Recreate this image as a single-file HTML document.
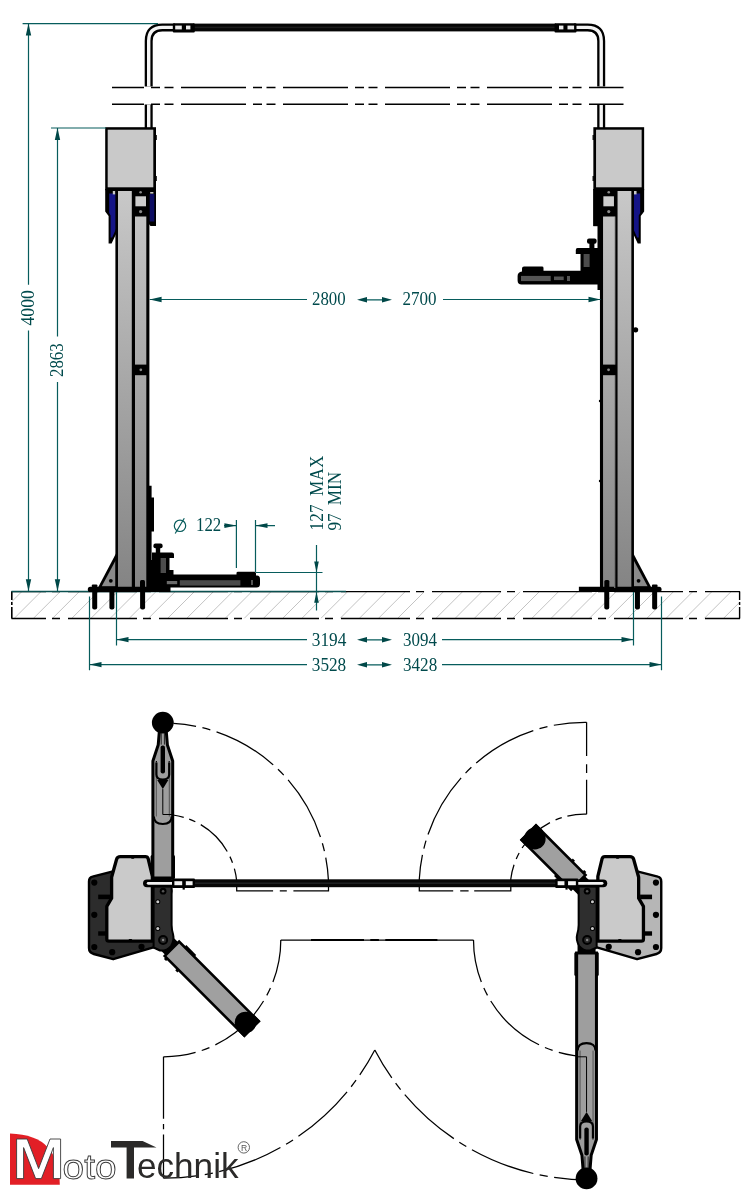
<!DOCTYPE html>
<html>
<head>
<meta charset="utf-8">
<title>Lift</title>
<style>
html,body{margin:0;padding:0;background:#fff;}
body{width:751px;height:1195px;overflow:hidden;font-family:"Liberation Serif",serif;}
svg{display:block;position:absolute;left:0;top:0;will-change:transform;}
.dim{stroke:#075c5c;stroke-width:1.2;fill:none;}
.arr{fill:#004848;stroke:none;}
.dt{font-family:"Liberation Serif",serif;font-size:17.2px;fill:#004a4c;}
.k{stroke:#000;fill:none;}
.cl{stroke:#000;stroke-width:1.25;fill:none;}
.lg{font-family:"Liberation Sans",sans-serif;}
</style>
</head>
<body>
<svg width="751" height="1195" viewBox="0 0 751 1195">
<defs>
<linearGradient id="colg" gradientUnits="userSpaceOnUse" x1="0" y1="191" x2="0" y2="588">
<stop offset="0" stop-color="#c8c8c8"/><stop offset="1" stop-color="#848484"/>
</linearGradient>
<clipPath id="floorclip"><rect x="11.5" y="591.5" width="728.5" height="27"/></clipPath>

</defs>
<rect x="0" y="0" width="751" height="1195" fill="#fff"/>
<g id="floor"><path clip-path="url(#floorclip)" d="M-24.3 618.6L2.8 591.5M-5.2 618.6L21.9 591.5M14.0 618.6L41.1 591.5M33.2 618.6L60.3 591.5M52.3 618.6L79.4 591.5M71.5 618.6L98.6 591.5M90.7 618.6L117.8 591.5M109.9 618.6L137.0 591.5M129.0 618.6L156.1 591.5M148.2 618.6L175.3 591.5M167.4 618.6L194.5 591.5M186.5 618.6L213.6 591.5M205.7 618.6L232.8 591.5M224.9 618.6L252.0 591.5M244.0 618.6L271.1 591.5M263.2 618.6L290.3 591.5M282.4 618.6L309.5 591.5M301.6 618.6L328.7 591.5M320.7 618.6L347.8 591.5M339.9 618.6L367.0 591.5M359.1 618.6L386.2 591.5M378.2 618.6L405.3 591.5M397.4 618.6L424.5 591.5M416.6 618.6L443.7 591.5M435.7 618.6L462.8 591.5M454.9 618.6L482.0 591.5M474.1 618.6L501.2 591.5M493.3 618.6L520.4 591.5M512.4 618.6L539.5 591.5M531.6 618.6L558.7 591.5M550.8 618.6L577.9 591.5M569.9 618.6L597.0 591.5M589.1 618.6L616.2 591.5M608.3 618.6L635.4 591.5M627.4 618.6L654.5 591.5M646.6 618.6L673.7 591.5M665.8 618.6L692.9 591.5M684.9 618.6L712.0 591.5M704.1 618.6L731.2 591.5M723.3 618.6L750.4 591.5M742.5 618.6L769.6 591.5" stroke="#b4b4b4" stroke-width="0.8" fill="none"/>
<path d="M11.5 591.5H740" class="k" stroke-width="1.25" stroke-dasharray="69 6 8 8" stroke-dashoffset="34.5"/>
<path d="M11.5 618.5H740" class="k" stroke-width="1.3" stroke-dasharray="69 6 8 8" stroke-dashoffset="34.5"/>
<path d="M11.8 591.5V618.5" class="k" stroke-width="1.6" stroke-dasharray="8.5 2 3 2 20"/>
<path d="M739.6 591.5V618.5" class="k" stroke-width="1.4" stroke-dasharray="8.5 2 3 2 20"/>
<path d="M11.5 591.6H346" stroke="#0a5050" stroke-width="1.5" fill="none"/>
</g>
<!--FLOOR-->

<g id="elev">
<!-- pipe -->
<g fill="none" stroke-linecap="butt">
<path d="M148.7 128V104.4M148.7 86.6V41Q148.7 27.4 162.3 27.4H175M601.2 128V104.4M601.2 86.6V41Q601.2 27.4 587.6 27.4H574" stroke="#000" stroke-width="8"/>
<path d="M148.7 128V104.4M148.7 86.6V41Q148.7 27.4 162.3 27.4H175M601.2 128V104.4M601.2 86.6V41Q601.2 27.4 587.6 27.4H574" stroke="#f4f4f4" stroke-width="3.4"/>
</g>
<rect x="193" y="23.6" width="363" height="7.8" fill="#060606"/>
<rect x="193" y="26.6" width="363" height="1.6" fill="#1c1c1c"/>
<rect x="172.8" y="23.2" width="22" height="9.2" rx="1" fill="#000"/>
<rect x="175.2" y="25.6" width="6.6" height="3.8" fill="#ededed"/><rect x="186" y="25.6" width="4.4" height="3.8" fill="#ededed"/>
<rect x="554.5" y="23.2" width="22" height="9.2" rx="1" fill="#000"/>
<rect x="567.5" y="25.6" width="6.6" height="3.8" fill="#ededed"/><rect x="559" y="25.6" width="4.4" height="3.8" fill="#ededed"/>
<!-- break lines -->
<path d="M112 87.45H623.5" class="k" stroke-width="1.35" stroke-dasharray="65 7 9 4.5 9 7.5" stroke-dashoffset="33"/>
<path d="M112 104.2H623.5" class="k" stroke-width="1.35" stroke-dasharray="65 7 9 4.5 9 7.5" stroke-dashoffset="33"/>
<g>
<!-- gusset -->
<path d="M97.5 588.5L116.5 552.5V588.5Z" fill="#000"/>
<path d="M101.8 586.3L115.6 560.5V586.3Z" fill="#8a8a8a"/>
<circle cx="110.8" cy="580.8" r="1.9" fill="#000"/>
<!-- motor box -->
<rect x="105.2" y="127.2" width="50.8" height="63" fill="#000"/>
<rect x="107.7" y="129.7" width="45.6" height="57.6" fill="#c9c9c9"/>
<rect x="155.5" y="135" width="1.3" height="5" fill="#000"/><rect x="155.5" y="176" width="1.3" height="5" fill="#000"/>
<!-- side covers (blue) -->
<path d="M105.2 189V211.5L108.6 216V243.5H111.6L116.5 233V189Z" fill="#000"/>
<path d="M109.2 193.5H116V229L112.2 237.5H110.6V215.5L109.2 213Z" fill="#141486"/>
<rect x="112.8" y="191" width="2.6" height="3.4" fill="#c8c8c8"/>
<path d="M148 189H156V226H150.5L148 223Z" fill="#000"/>
<path d="M149.5 194H154.3V221.5H149.5Z" fill="#0e0e64"/>
<rect x="150.2" y="192" width="3.2" height="1.6" fill="#c8c8c8"/>
<!-- column -->
<rect x="115.4" y="189" width="34" height="399.5" fill="#000"/>
<rect x="118" y="191" width="13.8" height="397" fill="url(#colg)"/>
<rect x="135" y="191" width="11.3" height="397" fill="url(#colg)"/>
<!-- top bracket -->
<rect x="134" y="189" width="13.5" height="27.5" fill="#000"/>
<rect x="135.4" y="196.3" width="10.6" height="10" fill="#cdcdcd"/>
<circle cx="140.6" cy="192.3" r="1.3" fill="#8a8a8a"/>
<circle cx="140.6" cy="211.6" r="1.6" fill="#8a8a8a"/>
<!-- mid bracket -->
<rect x="133.6" y="364.6" width="15" height="10.6" fill="#000"/>
<circle cx="140.8" cy="369.8" r="1.4" fill="#8a8a8a"/>
<!-- base plate -->
<path d="M90.2 586.8H170.5V592.1H90.2Q87.8 592.1 87.8 589.45Q87.8 586.8 90.2 586.8Z" fill="#000"/>
<!-- anchors -->
<rect x="92.2" y="590" width="5" height="19.4" rx="2" fill="#000"/><rect x="109.4" y="590" width="5" height="19.4" rx="2" fill="#000"/><rect x="140.1" y="590" width="5" height="19.4" rx="2" fill="#000"/>
<rect x="91.8" y="584.6" width="5.6" height="3" rx="1" fill="#000"/>
<rect x="140" y="580" width="5" height="8" rx="1.5" fill="#000"/>
</g>
<g transform="translate(749.35 0) scale(-1 1)">
<!-- gusset -->
<path d="M97.5 588.5L116.5 552.5V588.5Z" fill="#000"/>
<path d="M101.8 586.3L115.6 560.5V586.3Z" fill="#8a8a8a"/>
<circle cx="110.8" cy="580.8" r="1.9" fill="#000"/>
<!-- motor box -->
<rect x="105.2" y="127.2" width="50.8" height="63" fill="#000"/>
<rect x="107.7" y="129.7" width="45.6" height="57.6" fill="#c9c9c9"/>
<rect x="155.5" y="135" width="1.3" height="5" fill="#000"/><rect x="155.5" y="176" width="1.3" height="5" fill="#000"/>
<!-- side covers (blue) -->
<path d="M105.2 189V211.5L108.6 216V243.5H111.6L116.5 233V189Z" fill="#000"/>
<path d="M109.2 193.5H116V229L112.2 237.5H110.6V215.5L109.2 213Z" fill="#141486"/>
<rect x="112.8" y="191" width="2.6" height="3.4" fill="#c8c8c8"/>
<path d="M148 189H156V226H150.5L148 223Z" fill="#000"/>
<path d="M149.5 194H154.3V221.5H149.5Z" fill="#0e0e64"/>
<rect x="150.2" y="192" width="3.2" height="1.6" fill="#c8c8c8"/>
<!-- column -->
<rect x="115.4" y="189" width="34" height="399.5" fill="#000"/>
<rect x="118" y="191" width="13.8" height="397" fill="url(#colg)"/>
<rect x="135" y="191" width="11.3" height="397" fill="url(#colg)"/>
<!-- top bracket -->
<rect x="134" y="189" width="13.5" height="27.5" fill="#000"/>
<rect x="135.4" y="196.3" width="10.6" height="10" fill="#cdcdcd"/>
<circle cx="140.6" cy="192.3" r="1.3" fill="#8a8a8a"/>
<circle cx="140.6" cy="211.6" r="1.6" fill="#8a8a8a"/>
<!-- mid bracket -->
<rect x="133.6" y="364.6" width="15" height="10.6" fill="#000"/>
<circle cx="140.8" cy="369.8" r="1.4" fill="#8a8a8a"/>
<!-- base plate -->
<path d="M90.2 586.8H170.5V592.1H90.2Q87.8 592.1 87.8 589.45Q87.8 586.8 90.2 586.8Z" fill="#000"/>
<!-- anchors -->
<rect x="92.2" y="590" width="5" height="19.4" rx="2" fill="#000"/><rect x="109.4" y="590" width="5" height="19.4" rx="2" fill="#000"/><rect x="140.1" y="590" width="5" height="19.4" rx="2" fill="#000"/>
<rect x="91.8" y="584.6" width="5.6" height="3" rx="1" fill="#000"/>
<rect x="140" y="580" width="5" height="8" rx="1.5" fill="#000"/>
</g>
<!-- left column lift carriage side -->
<path d="M149 485.8H151.6V497.5H154V531.6H151.6V560H149Z" fill="#000"/>
<!-- left arm -->
<g id="larm">
<rect x="153.4" y="543.6" width="9.2" height="4.6" rx="2" fill="#000"/>
<rect x="155.8" y="546" width="4.4" height="8" fill="#000"/>
<path d="M152 552.5H172Q174 552.5 174 554.5V558H169.5V570H173.5V575H149V560H152Z" fill="#000"/>
<rect x="160.6" y="558" width="5.4" height="15" fill="#4c4c4c"/>
<path d="M149 574.5H236.5V573Q236.5 571.8 238 571.8H254.5Q256 571.8 256 573.3V575.5H257Q260 575.8 260 579V584Q260 587.6 256.5 587.6H170V591H149Z" fill="#000"/>
<rect x="179.8" y="580.2" width="60.6" height="5.4" fill="#4a4a4a"/>
<rect x="166.8" y="581" width="10.4" height="3.2" fill="#6a6a6a"/>
<rect x="251" y="580" width="2" height="5" fill="#555"/>
</g>
<!-- right column tweaks -->
<rect x="614.2" y="216.5" width="1.1" height="148.1" fill="url(#colg)"/><rect x="614.2" y="375.2" width="1.1" height="212.8" fill="url(#colg)"/>
<circle cx="635.6" cy="329.8" r="2.6" fill="#000"/><circle cx="600" cy="401" r="1.2" fill="#000"/><circle cx="600" cy="481" r="1.2" fill="#000"/>
<rect x="593.3" y="189" width="9" height="37.2" fill="#000"/>
<!-- right arm (raised) -->
<g id="rarm">
<path d="M594.6 189H603V290H597.5V217H594.6Z" fill="#000"/>
<rect x="587" y="238.6" width="9.6" height="5.2" rx="2" fill="#000"/>
<rect x="589.4" y="242" width="5" height="8" fill="#000"/>
<path d="M577.5 248H601V271H580.5V254H575.8V250Q575.8 248 577.5 248Z" fill="#000"/>
<rect x="583.6" y="254" width="6" height="13" fill="#4c4c4c"/>
<path d="M601 270.7H543.5V268Q543.5 266.6 542 266.6H524Q522 266.6 522 268.5V271.5Q517.6 272 517.6 276V280.5Q517.6 284.6 521.5 284.6H601Z" fill="#000"/>
<rect x="521" y="275.9" width="29.7" height="5.2" fill="#555"/>
<rect x="554" y="276.5" width="9.7" height="3.6" fill="#555"/>
<rect x="567" y="276" width="3" height="5" fill="#555"/>
</g>
</g>

<!--ELEV-->
<g id="dims">
<path class="dim" d="M22.6 23.6H158M28.5 24V284.7M28.5 330.4V591M51 128H106M57.5 128V336.4M57.5 382V591M149.6 299.5H307M443 299.5H600.5M362 299.8H387M116.5 592V645.5M633.5 592V645.5M116.5 639.6H307M442 639.6H633.5M362 639.8H387M89.5 596.4V670.3M661.5 596.4V670.3M89.5 664.6H307M442 664.6H661.5M362 664.8H387M224 525.6H236.4M255.5 525.6H275M236.4 520V568M255.5 520V572M256 572.5H322.5M316.5 545V610.4"/>
<path class="arr" d="M28.5 23.6L25.8 35.6H31.2ZM28.5 591.2L25.8 579.2H31.2ZM57.5 128L54.8 140H60.2ZM57.5 591.2L54.8 579.2H60.2ZM149.6 299.5L161.6 296.8V302.2ZM600.5 299.5L588.5 296.8V302.2ZM357 299.8L367 297.1V302.5ZM392 299.8L382 297.1V302.5ZM116.5 639.6L128.5 636.9V642.3000000000001ZM633.5 639.6L621.5 636.9V642.3000000000001ZM357 639.8L367 637.0999999999999V642.5ZM392 639.8L382 637.0999999999999V642.5ZM89.5 664.6L101.5 661.9V667.3000000000001ZM661.5 664.6L649.5 661.9V667.3000000000001ZM357 664.8L367 662.0999999999999V667.5ZM392 664.8L382 662.0999999999999V667.5ZM236.4 525.6L224.4 523.3000000000001V527.9ZM255.5 525.6L267.5 523.3000000000001V527.9ZM316.5 572.5L314.2 561.5H318.8ZM316.5 591.8L314.2 602.8H318.8Z"/>
<circle cx="180" cy="525.8" r="5.7" class="dim" stroke-width="1"/><path d="M175.2 533.5L184.3 518.3" class="dim" stroke-width="1"/>
<text class="dt" transform="translate(196 531.3) scale(1 1.07)" textLength="25.2" lengthAdjust="spacingAndGlyphs">122</text>
<text class="dt" transform="translate(312 304.9) scale(1 1.07)" textLength="33.6" lengthAdjust="spacingAndGlyphs">2800</text>
<text class="dt" transform="translate(402.6 304.9) scale(1 1.07)" textLength="34" lengthAdjust="spacingAndGlyphs">2700</text>
<text class="dt" transform="translate(311.8 646) scale(1 1.07)" textLength="34.6" lengthAdjust="spacingAndGlyphs">3194</text>
<text class="dt" transform="translate(403 646) scale(1 1.07)" textLength="33.9" lengthAdjust="spacingAndGlyphs">3094</text>
<text class="dt" transform="translate(311.8 670.6) scale(1 1.07)" textLength="34.4" lengthAdjust="spacingAndGlyphs">3528</text>
<text class="dt" transform="translate(403 670.6) scale(1 1.07)" textLength="34.2" lengthAdjust="spacingAndGlyphs">3428</text>
<text class="dt" transform="translate(34 325.5) rotate(-90) scale(1 1.07)" textLength="35.4" lengthAdjust="spacingAndGlyphs">4000</text>
<text class="dt" transform="translate(63.3 377) rotate(-90) scale(1 1.07)" textLength="33.6" lengthAdjust="spacingAndGlyphs">2863</text>
<text class="dt" transform="translate(323 530.5) rotate(-90) scale(1 1.07)" style="word-spacing:3.9px;letter-spacing:0.15px">127 MAX</text>
<text class="dt" transform="translate(341 530.5) rotate(-90) scale(1 1.07)" style="word-spacing:3.7px">97 MIN</text>
</g>

<!--DIMS-->
<g id="plan">
<path class="cl" d="M173.3 723.3A165.5 165.5 0 0 1 328.5 881" stroke-dasharray="66 6.5 8.2 6.5" stroke-dashoffset="43"/>
<path class="cl" d="M173 815A74 74 0 0 1 236.7 881" stroke-dasharray="38 5.8 6.6 6.2" stroke-dashoffset="27"/>
<path class="cl" d="M328.5 881V890.8H236.7V881" stroke-dasharray="44.9 6.6 7 6.7 100"/>
<path class="cl" d="M586.6 722.3A166 166 0 0 0 419.3 879" stroke-dasharray="66 6.5 8.2 6.5" stroke-dashoffset="33"/>
<path class="cl" d="M586.6 814.2A74 74 0 0 0 510.8 879" stroke-dasharray="38 5.8 6.6 6.2" stroke-dashoffset="18.6"/>
<path class="cl" d="M586.6 722.3V814.2" stroke-dasharray="33.6 8.4 8.7 6.8 60"/>
<path class="cl" d="M419.3 879V890.8H510.8V879" stroke-dasharray="45.7 7 8.4 5.6 100"/>
<path class="cl" d="M280.8 940H473.5"/>
<path d="M311 940H364M370.3 940H378.9M385.3 940H437.4" stroke="#000" stroke-width="2" fill="none"/>
<path class="cl" d="M280.8 940A116.9 116.9 0 0 1 163.5 1056.8" stroke-dasharray="66 6.5 8.2 6.5" stroke-dashoffset="23"/>
<path class="cl" d="M473.5 940A116.6 116.6 0 0 0 590 1056.6" stroke-dasharray="66 6.5 8.2 6.5" stroke-dashoffset="23"/>
<path class="cl" d="M163.5 1056.8V1178.2" stroke-dasharray="62 5.3 5.2 5.2 60"/>
<path class="cl" d="M163.5 1178.2A238.2 238.2 0 0 0 374.8 1050" stroke-dasharray="66 6.5 8.2 6.5" stroke-dashoffset="31"/>
<path class="cl" d="M589 1180A241.5 241.5 0 0 1 374.8 1050" stroke-dasharray="66 6.5 8.2 6.5" stroke-dashoffset="31"/>
<g transform="translate(162.8 891) rotate(-90) scale(1 -1)"><circle cx="0" cy="0" r="9.8" fill="#000"/><rect x="3" y="-9" width="10" height="18" fill="#000"/>
<rect x="12" y="-12.2" width="24" height="24.4" rx="1.5" fill="#000"/>
<path d="M13 -9.9H130L146 -4.6L160.4 -3.4H168.4V3.4H160.4L146 4.6L130 9.9H13Z" fill="#9e9e9e" stroke="#000" stroke-width="3" stroke-linejoin="miter"/>
<path d="M74.5 -8.9Q67.0 -8.9 67.0 0Q67.0 8.9 74.5 8.9" fill="none" stroke="#000" stroke-width="2.1"/>
<path d="M74.5 -6.5H122M74.5 6.5H122" stroke="#000" stroke-width="0.9" fill="none" opacity="0.55"/>
<path d="M101.9 0L110.9 -5.6V5.6Z" fill="#000"/>
<path d="M101.9 0H76.5V-9.9" stroke="#000" stroke-width="1" fill="none"/>
<rect x="117.4" y="-2.2" width="28" height="4.4" rx="2" fill="#000"/>
<path d="M128.4 -6.4H116.4Q111.4 -6.4 111.4 0Q111.4 6.4 116.4 6.4H128.4" fill="none" stroke="#000" stroke-width="2.2"/>
<path d="M130 -6.4H128.4M130 6.4H128.4" fill="none" stroke="#000" stroke-width="1.2"/>
<path d="M146.4 -1.6H162.4M146.4 1.6H162.4" stroke="#000" stroke-width="0.8" fill="none"/>
<circle cx="168.4" cy="0" r="10.9" fill="#000"/></g>
<g transform="translate(163.1 940) rotate(45)"><circle cx="0" cy="0" r="9.6" fill="#000"/><rect x="3" y="-9" width="10" height="18" fill="#000"/>
<path d="M12.5 -10.2H125.1V10.2H12.5Z" fill="#a0a0a0" stroke="#000" stroke-width="2.6"/>
<rect x="116.6" y="-11.399999999999999" width="9.8" height="22.799999999999997" fill="#000"/>
<circle cx="116.6" cy="0" r="10.8" fill="#000"/>
<rect x="20" y="-12.799999999999999" width="14" height="2" fill="#000"/>
<rect x="14" y="10.799999999999999" width="3" height="2" fill="#000"/><rect x="30" y="10.799999999999999" width="3" height="2" fill="#000"/></g>
<g transform="translate(586.55 940) rotate(90) scale(1 -1)"><circle cx="0" cy="0" r="9.8" fill="#000"/><rect x="3" y="-9" width="10" height="18" fill="#000"/>
<rect x="12" y="-12.2" width="24" height="24.4" rx="1.5" fill="#000"/>
<path d="M13 -9.9H199.4L215.4 -4.6L230.4 -3.4H238.4V3.4H230.4L215.4 4.6L199.4 9.9H13Z" fill="#9e9e9e" stroke="#000" stroke-width="3" stroke-linejoin="miter"/>
<path d="M110.6 -8.9Q103.1 -8.9 103.1 0Q103.1 8.9 110.6 8.9" fill="none" stroke="#000" stroke-width="2.1"/>
<path d="M110.6 -6.5H191.4M110.6 6.5H191.4" stroke="#000" stroke-width="0.9" fill="none" opacity="0.55"/>
<path d="M171.9 0L180.9 -5.6V5.6Z" fill="#000"/>
<path d="M171.9 0H116.8V-9.9" stroke="#000" stroke-width="1" fill="none"/>
<rect x="187.4" y="-2.2" width="28" height="4.4" rx="2" fill="#000"/>
<path d="M198.4 -6.4H186.4Q181.4 -6.4 181.4 0Q181.4 6.4 186.4 6.4H198.4" fill="none" stroke="#000" stroke-width="2.2"/>
<path d="M199.4 -6.4H198.4M199.4 6.4H198.4" fill="none" stroke="#000" stroke-width="1.2"/>
<path d="M216.4 -1.6H232.4M216.4 1.6H232.4" stroke="#000" stroke-width="0.8" fill="none"/>
<circle cx="238.4" cy="0" r="10.9" fill="#000"/></g>
<g transform="translate(587.15 891) rotate(-135)"><circle cx="0" cy="0" r="9.6" fill="#000"/><rect x="3" y="-9" width="10" height="18" fill="#000"/>
<path d="M12.5 -10.2H82.5V10.2H12.5Z" fill="#a0a0a0" stroke="#000" stroke-width="2.6"/>
<rect x="74" y="-11.399999999999999" width="9.8" height="22.799999999999997" fill="#000"/>
<circle cx="74" cy="0" r="10.8" fill="#000"/>
<rect x="20" y="-12.799999999999999" width="14" height="2" fill="#000"/>
<rect x="14" y="10.799999999999999" width="3" height="2" fill="#000"/><rect x="30" y="10.799999999999999" width="3" height="2" fill="#000"/></g>
<g><path d="M92.5 876.6L116 870.6L150 880L156 946.6L113.2 959.2L93.8 954Q89 952.6 89 948V881.5Q89 877.4 92.5 876.6Z" fill="#2c2c2c" stroke="#000" stroke-width="2.4" stroke-linejoin="round"/>
<circle cx="94.3" cy="882.6" r="3.1" fill="#000"/>
<circle cx="94.3" cy="914.8" r="3.1" fill="#000"/>
<circle cx="94.3" cy="947" r="3.1" fill="#000"/>
<circle cx="112.2" cy="952.2" r="3.1" fill="#000"/>
<circle cx="141.5" cy="946.8" r="3.1" fill="#000"/>
<rect x="98.2" y="894.6" width="12" height="4.6" fill="#000"/><rect x="98.2" y="931.3" width="12" height="4.4" fill="#000"/>
<path d="M120.4 856.6H145.4Q147.6 856.6 148.2 858.8L152.4 876.4V941.2H109Q106.8 941.2 106.8 939V906.4L111.6 898.2V877.2L116.6 859.2Q117.4 856.6 120.4 856.6Z" fill="#cacaca" stroke="#000" stroke-width="3.3" stroke-linejoin="round"/>
<rect x="131" y="856.4" width="3.4" height="2.4" rx="1" fill="#000"/><rect x="128.6" y="939" width="3.6" height="2.4" rx="1" fill="#000"/>
<path d="M153.6 886.5H171.6V925Q171.8 931 173 934Q174.6 940 171 946Q167 951 160 950.5L153.6 947.5Z" fill="#2e2e2e" stroke="#000" stroke-width="2" stroke-linejoin="round"/>
<circle cx="163.1" cy="891.2" r="3.4" fill="#000"/><circle cx="163.1" cy="891.2" r="1.3" fill="#555"/>
<circle cx="163.1" cy="940" r="5" fill="#000"/><circle cx="163.1" cy="940" r="3" fill="#2a2a2a"/><circle cx="163.1" cy="940" r="1.2" fill="#888"/>
<circle cx="157.8" cy="901.8" r="2.5" fill="#000"/><circle cx="157.8" cy="901.8" r="1.5" fill="#c8c8c8"/>
<circle cx="157.8" cy="928.4" r="2.5" fill="#000"/><circle cx="157.8" cy="928.4" r="1.5" fill="#c8c8c8"/></g>
<g transform="translate(750.25 0) scale(-1 1)"><path d="M92.5 876.6L116 870.6L150 880L156 946.6L113.2 959.2L93.8 954Q89 952.6 89 948V881.5Q89 877.4 92.5 876.6Z" fill="#b6b6b6" stroke="#000" stroke-width="2.4" stroke-linejoin="round"/>
<circle cx="94.3" cy="882.6" r="3.1" fill="#000"/>
<circle cx="94.3" cy="914.8" r="3.1" fill="#000"/>
<circle cx="94.3" cy="947" r="3.1" fill="#000"/>
<circle cx="112.2" cy="952.2" r="3.1" fill="#000"/>
<circle cx="141.5" cy="946.8" r="3.1" fill="#000"/>
<rect x="98.2" y="894.6" width="12" height="4.6" fill="#000"/><rect x="98.2" y="931.3" width="12" height="4.4" fill="#000"/>
<path d="M120.4 856.6H145.4Q147.6 856.6 148.2 858.8L152.4 876.4V941.2H109Q106.8 941.2 106.8 939V906.4L111.6 898.2V877.2L116.6 859.2Q117.4 856.6 120.4 856.6Z" fill="#cacaca" stroke="#000" stroke-width="3.3" stroke-linejoin="round"/>
<rect x="131" y="856.4" width="3.4" height="2.4" rx="1" fill="#000"/><rect x="128.6" y="939" width="3.6" height="2.4" rx="1" fill="#000"/>
<path d="M153.6 886.5H171.6V925Q171.8 931 173 934Q174.6 940 171 946Q167 951 160 950.5L153.6 947.5Z" fill="#2e2e2e" stroke="#000" stroke-width="2" stroke-linejoin="round"/>
<circle cx="163.1" cy="891.2" r="3.4" fill="#000"/><circle cx="163.1" cy="891.2" r="1.3" fill="#555"/>
<circle cx="163.1" cy="940" r="5" fill="#000"/><circle cx="163.1" cy="940" r="3" fill="#2a2a2a"/><circle cx="163.1" cy="940" r="1.2" fill="#888"/>
<circle cx="157.8" cy="901.8" r="2.5" fill="#000"/><circle cx="157.8" cy="901.8" r="1.5" fill="#c8c8c8"/>
<circle cx="157.8" cy="928.4" r="2.5" fill="#000"/><circle cx="157.8" cy="928.4" r="1.5" fill="#c8c8c8"/></g>
<rect x="194" y="879.3" width="362" height="7.9" fill="#070707"/><rect x="194" y="882.4" width="362" height="1.6" fill="#1e2022"/>
<g><path d="M147 879.4H172.5V887.3H147Q143 887.3 143 883.35Q143 879.4 147 879.4Z" fill="#000"/>
<path d="M148.2 881.9H172.5V884.7H148.2Q146.8 884.7 146.8 883.3Q146.8 881.9 148.2 881.9Z" fill="#f2f2f2"/>
<rect x="172" y="878.6" width="23" height="9.4" rx="1" fill="#000"/>
<rect x="174.4" y="881.2" width="7.8" height="4" fill="#f2f2f2"/><rect x="185.8" y="881.2" width="6.8" height="4" fill="#f2f2f2"/>
<rect x="182.6" y="887" width="2.2" height="2.6" fill="#000"/></g>
<g transform="translate(750.25 0) scale(-1 1)"><path d="M147 879.4H172.5V887.3H147Q143 887.3 143 883.35Q143 879.4 147 879.4Z" fill="#000"/>
<path d="M148.2 881.9H172.5V884.7H148.2Q146.8 884.7 146.8 883.3Q146.8 881.9 148.2 881.9Z" fill="#f2f2f2"/>
<rect x="172" y="878.6" width="23" height="9.4" rx="1" fill="#000"/>
<rect x="174.4" y="881.2" width="7.8" height="4" fill="#f2f2f2"/><rect x="185.8" y="881.2" width="6.8" height="4" fill="#f2f2f2"/>
<rect x="182.6" y="887" width="2.2" height="2.6" fill="#000"/></g>
</g>
<!--PLAN-->
<g id="logo">
<path d="M10 1133.6Q36 1134.4 48 1147.5Q59.6 1160.5 59.8 1184.8H10Z" fill="#e21f26"/>
<path d="M16.6 1178.6V1139H27.2L38.6 1168.6L50 1139H60.6V1178.6H53.4V1147.6L41.4 1178.6H35.6L23.6 1147.6V1178.6Z" fill="#fff" stroke="#3a3a3a" stroke-width="0.9" stroke-linejoin="miter"/>
<text class="lg" x="62.6" y="1178.6" font-size="35.5" textLength="54" lengthAdjust="spacingAndGlyphs" fill="#fff" stroke="#3a3a3a" stroke-width="0.9">oto</text>
<path d="M111 1141H142.6L156.5 1147.5H134V1178.4H126.6V1147.5H111Z" fill="#2b2a29"/>
<text class="lg" x="137" y="1178.4" font-size="35.2" textLength="101.5" lengthAdjust="spacingAndGlyphs" fill="#2b2a29">echnik</text>
<circle cx="243.8" cy="1147.4" r="5.7" fill="none" stroke="#555" stroke-width="0.9"/>
<text class="lg" x="240.9" y="1150.6" font-size="8.6" fill="#555">R</text>
</g>
<!--LOGO-->
</svg>
</body>
</html>
